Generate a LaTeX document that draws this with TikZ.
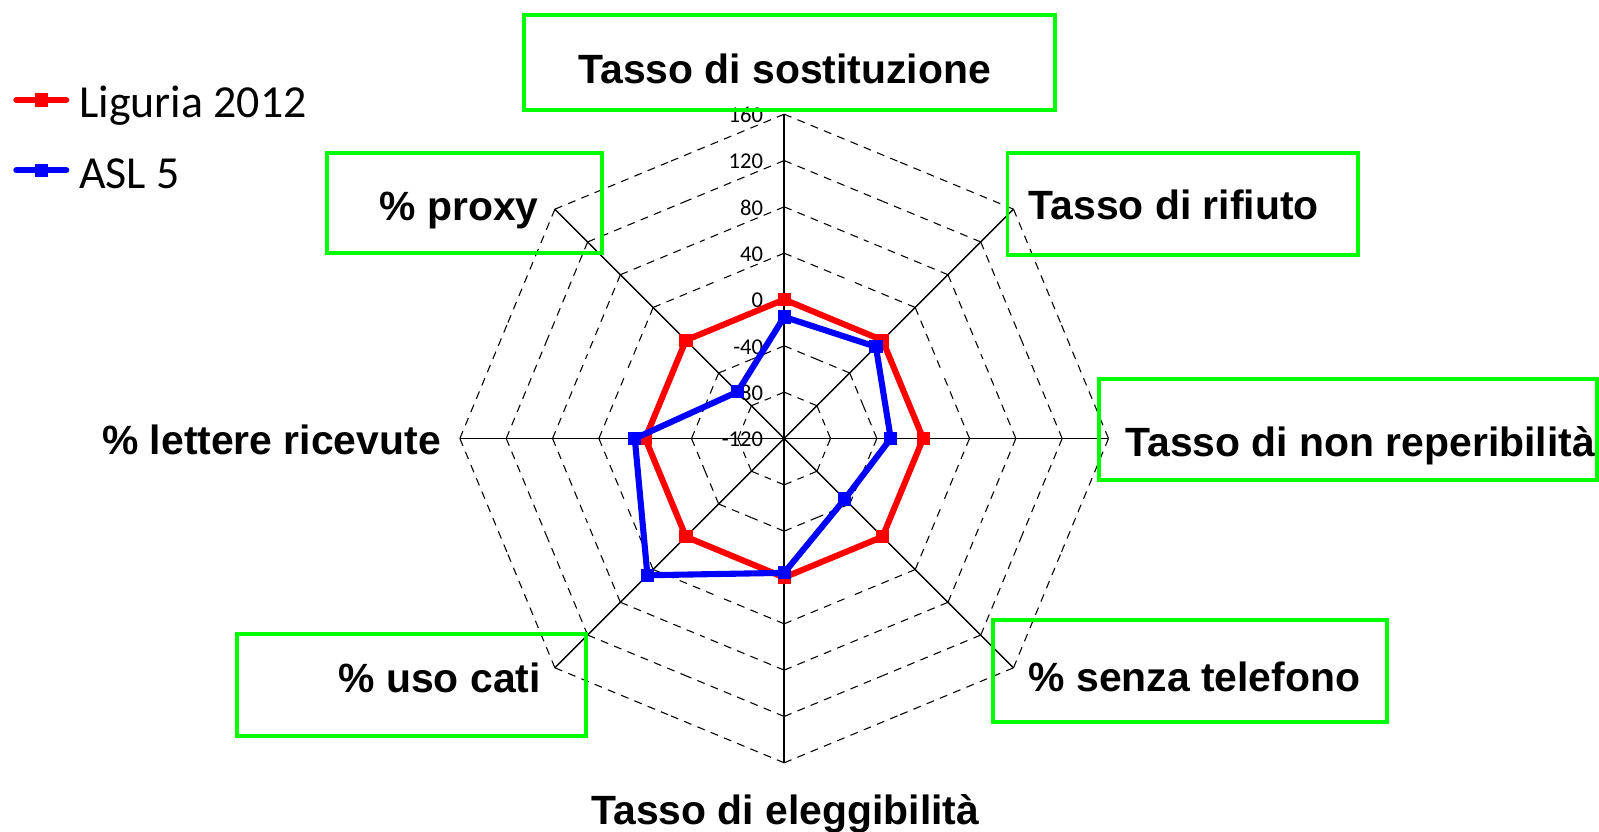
\documentclass[tikz,border=0pt]{standalone}
\usepackage{fontspec}
\setmainfont{Liberation Sans}
\newfontfamily\calibri{Carlito}
\usetikzlibrary{calc}

\begin{document}
\begin{tikzpicture}[x=0.01cm,y=0.01cm]
\tikzset{ring/.style = {draw=black,line width=0.3pt,dash pattern=on 2.2pt off 1.8pt}}
\tikzset{axisline/.style = {draw=black,line width=0.4pt}}
\tikzset{ticklabel/.style = {font=\calibri\fontsize{6.3}{7}\selectfont,anchor=east,inner sep=0pt}}
\tikzset{axlabel/.style = {font=\bfseries\fontsize{11.4}{13}\selectfont,inner sep=0pt}}
\tikzset{legendlabel/.style = {font=\calibri\fontsize{12.8}{14}\selectfont,anchor=base west,inner sep=0pt}}
\tikzset{hilite/.style = {draw=green,line width=1.1pt}}
\tikzset{series/.style = {line width=1.7pt,line join=round}}
\tikzset{marker/.style = {shape=rectangle,minimum size=3.7pt,inner sep=0pt}}
\useasboundingbox (-769,-385) rectangle (799,430);
\coordinate (o) at (0,0);
% rings and axes
\foreach \k in {1,...,7}
  \foreach \a in {0,45,...,315} {
    \draw[ring] (\a:\k*45.43) -- ($(\a:\k*45.43)!0.5!(\a+45:\k*45.43)$);
    \draw[ring] (\a+45:\k*45.43) -- ($(\a:\k*45.43)!0.5!(\a+45:\k*45.43)$);
  }
\foreach \a [count=\i] in {90,45,0,-45,-90,-135,180,135} {
  \coordinate (c\i) at (\a:318);
  \draw[axisline] (o) -- (c\i);
}
\foreach \v [count=\k from 0] in {-120,-80,...,160}
  \node[ticklabel] (t\k) at (-20,{\k*45.43-1}) {\v};
% series
\foreach \a/\v [count=\i] in {90/0,45/0,0/0,-45/0,-90/0,-135/0,180/0,135/0}
  \coordinate (r\i) at (\a:{(\v+120)*1.1357});
\foreach \a/\v [count=\i] in {90/-15,45/-8,0/-28,-45/-46,-90/-4,-135/47,180/9,135/-63}
  \coordinate (b\i) at (\a:{(\v+120)*1.1357});
\draw[series,red] (r1) -- (r2) -- (r3) -- (r4) -- (r5) -- (r6) -- (r7) -- (r8) -- cycle;
\foreach \i in {1,...,8} \node[marker,fill=red] (rm\i) at (r\i) {};
\draw[series,blue] (b1) -- (b2) -- (b3) -- (b4) -- (b5) -- (b6) -- (b7) -- (b8) -- cycle;
\foreach \i in {1,...,8} \node[marker,fill=blue] (bm\i) at (b\i) {};
% axis labels
\node[axlabel,anchor=base] (l1) at (0.5,348) {Tasso di sostituzione};
\node[axlabel,anchor=base west] (l2) at (239,215) {Tasso di rifiuto};
\node[axlabel,anchor=base west] (l3) at (334,-18) {Tasso di non reperibilità};
\node[axlabel,anchor=base west] (l4) at (239,-248) {\% senza telefono};
\node[axlabel,anchor=base] (l5) at (1,-379) {Tasso di eleggibilità};
\node[axlabel,anchor=base east] (l6) at (-238,-249) {\% uso cati};
\node[axlabel,anchor=base east] (l7) at (-336,-16) {\% lettere ricevute};
\node[axlabel,anchor=base east] (l8) at (-240,214) {\% proxy};
% highlight boxes
\draw[hilite] (-255,415) rectangle (266,322);
\draw[hilite] (219,280) rectangle (563,180);
\draw[hilite] (309,58) rectangle (797,-41);
\draw[hilite] (205,-178) rectangle (591,-278);
\draw[hilite] (-537,-192) rectangle (-194,-292);
\draw[hilite] (-448,280) rectangle (-179,182);
% legend
\coordinate (lr1) at (-753,332);
\coordinate (lr2) at (-704,332);
\coordinate (lb1) at (-753,263);
\coordinate (lb2) at (-704,263);
\draw[series,red,line cap=round] (lr1) -- (lr2);
\node[marker,fill=red] (lrm) at ($(lr1)!0.5!(lr2)$) {};
\node[legendlabel] (lrt) at (-692,315) {Liguria 2012};
\draw[series,blue,line cap=round] (lb1) -- (lb2);
\node[marker,fill=blue] (lbm) at ($(lb1)!0.5!(lb2)$) {};
\node[legendlabel] (lbt) at (-692,245) {ASL 5};
\end{tikzpicture}
\end{document}
